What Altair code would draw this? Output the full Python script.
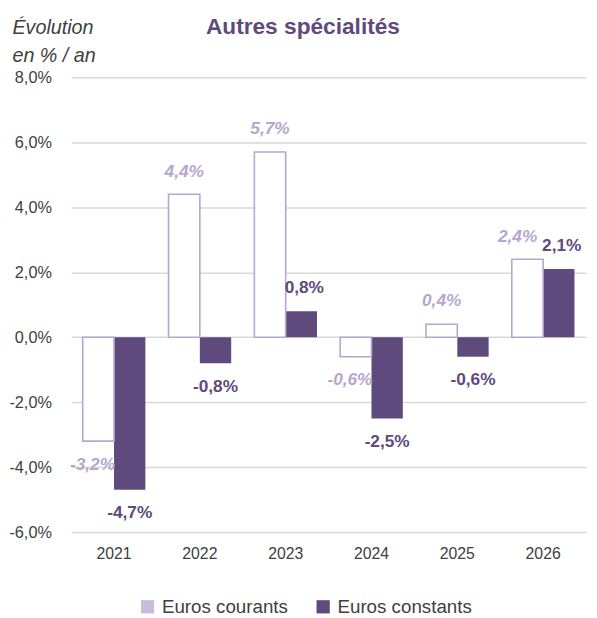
import altair as alt
import pandas as pd

years = ["2021", "2022", "2023", "2024", "2025", "2026"]
courants = [-3.2, 4.4, 5.7, -0.6, 0.4, 2.4]
constants = [-4.7, -0.8, 0.8, -2.5, -0.6, 2.1]
series = ["Euros courants", "Euros constants"]
y_ticks = [-6, -4, -2, 0, 2, 4, 6, 8]

rows = []
for i, y in enumerate(years):
    rows.append({"annee": y, "serie": series[0], "v": courants[i]})
    rows.append({"annee": y, "serie": series[1], "v": constants[i]})
df = pd.DataFrame(rows)

FONT = "Liberation Sans"
LIGHT = "#B6A6CF"
DARK = "#5E4A7C"
FMT = "replace(replace(format(datum.{f}, '.1f'), '.', ','), '\u2212', '-') + '%'"

x = alt.X("annee:N", title=None, sort=years,
          scale=alt.Scale(paddingInner=0.27, paddingOuter=0.135),
          axis=alt.Axis(labelFontSize=16, labelColor="#404040", labelFont=FONT,
                        domain=False, ticks=False, labelPadding=14, labelAngle=0))
xo = alt.XOffset("serie:N", sort=series, scale=alt.Scale(paddingInner=0))
y = alt.Y("v:Q", scale=alt.Scale(domain=[-6, 8], nice=False),
          axis=alt.Axis(values=y_ticks, labelExpr=FMT.format(f="value"),
                        labelFontSize=16.5, labelColor="#404040", labelFont=FONT,
                        domain=False, ticks=False, labelPadding=20,
                        gridColor="#D9D9D9", gridWidth=1.5,
                        title=["Évolution", "en % / an"], titleFont=FONT,
                        titleFontStyle="italic", titleFontWeight="normal",
                        titleFontSize=20, titleColor="#404040", titleAngle=0,
                        titleAlign="left", titleBaseline="top",
                        titleX=-60, titleY=-60, titleLineHeight=28))

base = alt.Chart(df).transform_calculate(
    lab=FMT.format(f="v"),
    pos="datum.v >= 0 ? 1 : 0"
)

bars = base.mark_bar().encode(
    x=x, xOffset=xo, y=y,
    color=alt.Color("serie:N", sort=series,
                    scale=alt.Scale(domain=series, range=["#C9BCDD", DARK]),
                    legend=alt.Legend(title=None, orient="none", direction="horizontal",
                                      legendX=68, legendY=527,
                                      symbolType="square", symbolSize=180,
                                      symbolStrokeWidth=0,
                                      labelFontSize=19, labelFont=FONT,
                                      labelColor="#404040", columnPadding=26,
                                      labelOffset=5))
)

white = base.transform_filter(f"datum.serie == '{series[0]}'").mark_bar(
    fill="white", stroke=LIGHT, strokeWidth=1.6
).encode(x=x, xOffset=xo, y=y)

def labels(filt, color, italic, dx, pos):
    return base.transform_filter(filt).transform_filter(f"datum.pos == {pos}").mark_text(
        font=FONT, fontSize=17.5, fontWeight="bold",
        fontStyle="italic" if italic else "normal",
        color=color, dx=dx, dy=-23 if pos == 1 else 24, baseline="middle"
    ).encode(x=x, xOffset=xo, y=y, text="lab:N")

c_norm = f"datum.serie == '{series[0]}' && datum.annee != '2021' && datum.annee != '2024' && datum.annee != '2026'"
c_shift = f"datum.serie == '{series[0]}' && (datum.annee == '2021' || datum.annee == '2024')"
c_shift2 = f"datum.serie == '{series[0]}' && datum.annee == '2026'"
k_all = f"datum.serie == '{series[1]}'"

layers = [bars, white,
          labels(c_norm, LIGHT, True, 0, 1),
          labels(c_shift, LIGHT, True, -6, 0),
          labels(c_shift2, LIGHT, True, -10, 1),
          labels(k_all, DARK, False, 3, 1),
          labels(k_all, DARK, False, 0, 0)]

chart = alt.layer(*layers).properties(
    width=522, height=461,
    title=alt.TitleParams("Autres spécialités", font=FONT, fontSize=23, fontWeight="bold",
                          color=DARK, anchor="middle", offset=-21, dx=-26),
    autosize=alt.AutoSizeParams(type="none"),
    padding={"left": 64, "top": 66, "right": 3, "bottom": 100}
).configure_view(stroke=None)

chart.save("out.html", embed_options={"renderer": "svg", "actions": False})
